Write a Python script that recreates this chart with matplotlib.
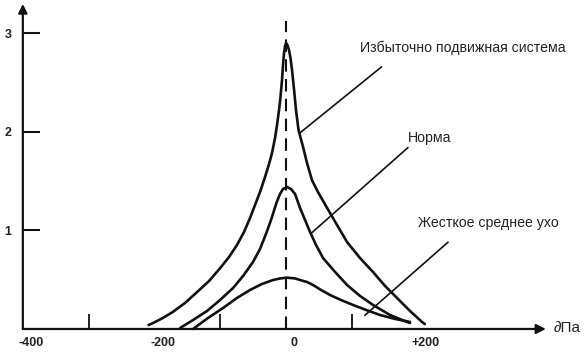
import matplotlib.pyplot as plt

plt.rcParams['font.family'] = ['Liberation Sans', 'DejaVu Sans']

# pressure (daPa) vs compliance
hyper_x = [-209, -202, -187, -172, -153.5, -135, -117, -100, -86.6, -74.5, -63.8, -54.7, -47.1,
           -39.5, -31.9, -25.8, -21.3, -16.7, -13.7, -10.6, -8.4, -6.1, -4.6, -3.0, -1.5, 0,
           2.3, 4.6, 6.8, 9.1, 12.2, 15.2, 19, 25.8, 31.9, 39.5, 48.6, 62.3, 77.5, 92.7, 112.5,
           132, 150.5, 168.7, 188.4, 206.7, 211]
hyper_y = [0.04, 0.061, 0.112, 0.173, 0.264, 0.376, 0.487, 0.619, 0.731, 0.853, 0.985, 1.127, 1.259,
           1.391, 1.543, 1.675, 1.787, 1.939, 2.071, 2.223, 2.355, 2.528, 2.680, 2.802, 2.873, 2.904,
           2.88, 2.83, 2.75, 2.63, 2.43, 2.22, 2.02, 1.85, 1.685, 1.51, 1.39, 1.23, 1.056, 0.883, 0.72,
           0.58, 0.437, 0.315, 0.183, 0.071, 0.05]

norm_x = [-161, -141.3, -120, -100.3, -80.5, -65.3, -50.2, -39.5, -29.3, -22.8, -14.1, -9.1, -4.6,
          1.5, 7.6, 13.7, 21.3, 28.9, 36.5, 45.6, 56.2, 74.5, 92.7, 112.5, 132.2, 158, 184, 188.4]
norm_y = [0.01, 0.091, 0.183, 0.294, 0.416, 0.538, 0.680, 0.812, 0.985, 1.107, 1.289, 1.371, 1.421,
          1.442, 1.421, 1.371, 1.228, 1.107, 0.985, 0.853, 0.721, 0.579, 0.447, 0.335, 0.244, 0.142,
          0.071, 0.061]

stiff_x = [-141.3, -118.5, -95.7, -74.5, -54.7, -36.5, -19.8, -9.1, 1.5, 13.7, 21.3, 31.9, 41,
           53.2, 66.9, 83.6, 101.8, 121.6, 142.9, 165.7, 188.4]
stiff_y = [0.0, 0.112, 0.213, 0.315, 0.396, 0.457, 0.497, 0.513, 0.521, 0.513, 0.497, 0.477, 0.447,
           0.396, 0.345, 0.294, 0.244, 0.193, 0.142, 0.102, 0.071]

labels = ['Избыточно подвижная система', 'Норма', 'Жесткое среднее ухо']
label_pos = [(113, 2.85), (185, 1.94), (201, 1.08)]
pointers = [((21, 1.99), (145, 2.66)), ((38, 0.97), (185, 1.84)), ((120, 0.14), (246, 0.88))]

xtick_vals = [-400, -200, 0, 200]
xtick_labels = ['-400', '-200', '0', '+200']
xminor = [-300, -200, -100, 100, 200]
yticks = [1, 2, 3]

fig = plt.figure(figsize=(5.86, 3.6), dpi=100)
ax = fig.add_axes([0, 0, 1, 1])
ax.set_xlim(-434.7, 455.9)
ax.set_ylim(-0.315, 3.34)

for s in ax.spines.values():
    s.set_visible(False)
ax.spines['left'].set_position(('data', -400))
ax.spines['bottom'].set_position(('data', 0))

# axes with arrows
ax.annotate('', xy=(-400, 3.30), xytext=(-400, 0),
            arrowprops=dict(arrowstyle='-|>', lw=1.6, color='#111', mutation_scale=13, shrinkA=0, shrinkB=0))
ax.annotate('', xy=(395, 0), xytext=(-400, 0),
            arrowprops=dict(arrowstyle='-|>', lw=1.6, color='#111', mutation_scale=14, shrinkA=0, shrinkB=0))
ax.text(406, 0.01, '∂Па', fontsize=11, va='center', ha='left', color='#222')

ax.set_yticks(yticks)
ax.set_yticklabels([str(v) for v in yticks], fontsize=9, fontweight='bold', color='#222')
ax.tick_params(axis='y', direction='in', length=12, width=1.5, pad=8, color='#111')

ax.set_xticks(xtick_vals)
ax.set_xticklabels([])
ax.set_xticks(xminor, minor=True)
ax.tick_params(axis='x', which='major', length=0)
ax.tick_params(axis='x', which='minor', direction='in', length=10.5, width=1.3, color='#111')
for v, lab in zip(xtick_vals, xtick_labels):
    ax.annotate(lab, (v, 0), xytext=(6, -6), textcoords='offset points',
                ha='center', va='top', fontsize=9, fontweight='bold', color='#222')

ax.plot([0, 0], [0, 3.13], color='#111', lw=1.5, ls=(0, (6, 3.5)))

for xs, ys in [(hyper_x, hyper_y), (norm_x, norm_y), (stiff_x, stiff_y)]:
    ax.plot(xs, ys, color='#111', lw=1.9, solid_joinstyle='round', solid_capstyle='round')

for (p0, p1) in pointers:
    ax.plot([p0[0], p1[0]], [p0[1], p1[1]], color='#111', lw=1.2)

for lab, (lx, ly) in zip(labels, label_pos):
    ax.text(lx, ly, lab, fontsize=10.2, va='center', ha='left', color='#222')

fig.savefig('out.png', dpi=100)
